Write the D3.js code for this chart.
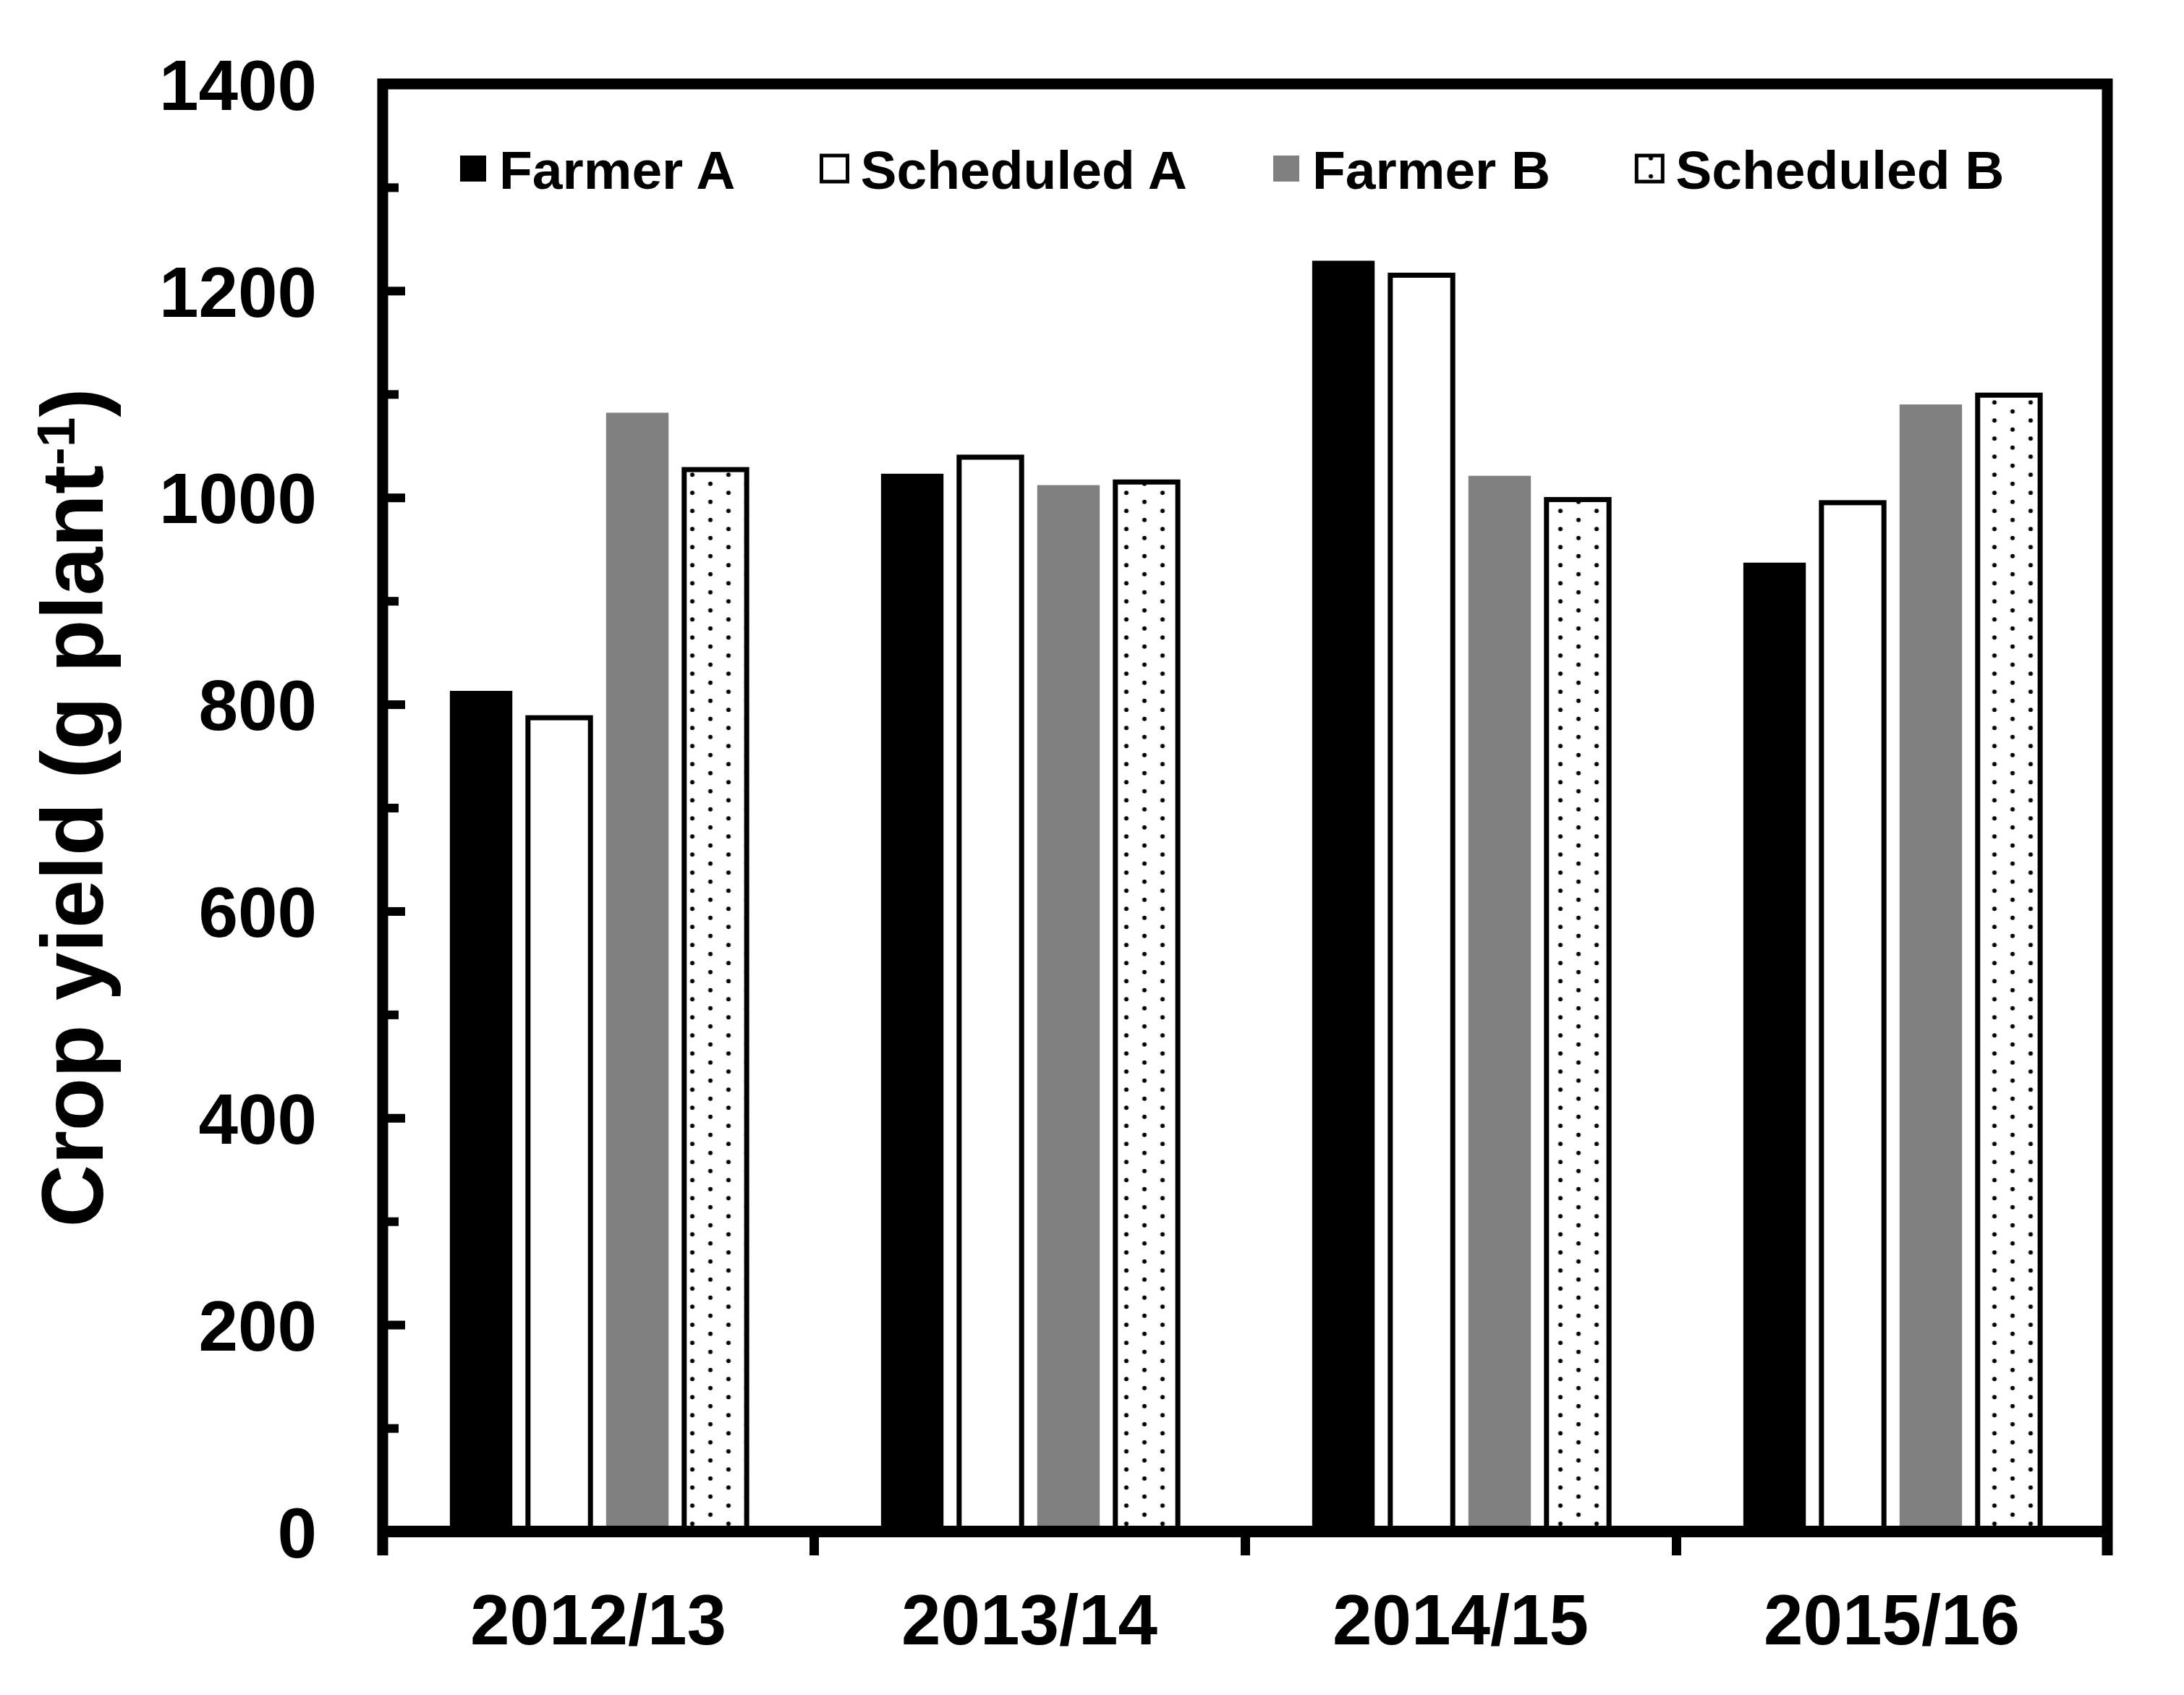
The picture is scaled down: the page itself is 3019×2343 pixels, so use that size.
<!DOCTYPE html>
<html>
  <head>
    <meta charset="UTF-8" />
    <style>
      body { margin: 0; background: #fff; }
      text { font-family: 'Liberation Sans', Arial, sans-serif; font-weight: bold; fill: #000; }
    </style>
  </head>
  <body>
    <svg></svg>

    <script src="https://d3js.org/d3.v7.min.js"></script>
    <script>
      let width = 3019,
        height = 2343

      // data
      let seasons = ['2012/13', '2013/14', '2014/15', '2015/16']
      let series = ['Farmer A', 'Scheduled A', 'Farmer B', 'Scheduled B']
      let farmerA = [813, 1023, 1229, 937]
      let scheduledA = [787, 1039, 1215, 995]
      let farmerB = [1082, 1012, 1021, 1090]
      let scheduledB = [1027, 1015, 998, 1099]
      let yTicks = [0, 200, 400, 600, 800, 1000, 1200, 1400]
      let yMinorTicks = [100, 300, 500, 700, 900, 1100, 1300]

      let values = [farmerA, scheduledA, farmerB, scheduledB]
      let rows = []
      seasons.forEach((s, i) => {
        series.forEach((k, j) => rows.push({ season: s, key: k, value: values[j][i] }))
      })

      let svg = d3.select('svg').attr('width', width).attr('height', height)
      svg.append('rect').attr('width', width).attr('height', height).attr('fill', '#fff')

      let plotLeft = 529,
        plotRight = 2913,
        plotTop = 116,
        plotBottom = 2117

      let y = d3.scaleLinear().domain([0, 1400]).range([plotBottom, plotTop])
      let x0 = d3.scaleBand().domain(seasons).range([plotLeft, plotRight])
      let x1 = d3
        .scaleBand()
        .domain(series)
        .range([0, x0.bandwidth()])
        .paddingInner(0.2)
        .paddingOuter(0.86)

      // dotted fill
      let defs = svg.append('defs')
      let pat = defs
        .append('pattern')
        .attr('id', 'dots')
        .attr('patternUnits', 'userSpaceOnUse')
        .attr('x', -5.5)
        .attr('y', 0)
        .attr('width', 50)
        .attr('height', 25)
      pat.append('rect').attr('width', 50).attr('height', 25).attr('fill', '#fff')
      pat.append('circle').attr('cx', 12.5).attr('cy', 6.25).attr('r', 3).attr('fill', '#000')
      pat.append('circle').attr('cx', 37.5).attr('cy', 18.75).attr('r', 3).attr('fill', '#000')

      let fills = d3.scaleOrdinal().domain(series).range(['#000', '#fff', '#808080', 'url(#dots)'])
      let strokes = d3.scaleOrdinal().domain(series).range(['none', '#000', 'none', '#000'])

      // bars
      svg
        .append('g')
        .attr('id', 'bars')
        .selectAll('rect')
        .data(rows)
        .enter()
        .append('rect')
        .attr('x', (d) => x0(d.season) + x1(d.key))
        .attr('y', (d) => y(d.value))
        .attr('width', x1.bandwidth())
        .attr('height', (d) => y(0) - y(d.value))
        .attr('fill', (d) => fills(d.key))
        .attr('stroke', (d) => strokes(d.key))
        .attr('stroke-width', 7)

      // y axis, major and minor ticks pointing inward
      let yAxis = svg
        .append('g')
        .attr('transform', 'translate(' + plotLeft + ',0)')
        .call(d3.axisLeft(y).tickValues(yTicks).tickFormat(d3.format('d')).tickSize(-31).tickPadding(91))
      yAxis.select('.domain').remove()
      yAxis.selectAll('line').attr('stroke', '#000').attr('stroke-width', 12)
      yAxis.selectAll('text').attr('font-size', 98).attr('dy', '0.36em')
      yAxis.attr('font-family', null).attr('font-size', null)

      let yMinor = svg
        .append('g')
        .attr('transform', 'translate(' + plotLeft + ',0)')
        .call(d3.axisLeft(y).tickValues(yMinorTicks).tickSize(-22).tickFormat(''))
      yMinor.select('.domain').remove()
      yMinor.selectAll('line').attr('stroke', '#000').attr('stroke-width', 12)

      // x axis: boundary ticks going down, labels at the centres
      let xb = d3.scaleLinear().domain([0, seasons.length]).range([plotLeft, plotRight])
      let xTickAxis = svg
        .append('g')
        .attr('transform', 'translate(0,' + plotBottom + ')')
        .call(d3.axisBottom(xb).tickValues(d3.range(seasons.length + 1)).tickSize(33).tickFormat(''))
      xTickAxis.select('.domain').remove()
      xTickAxis.selectAll('line').attr('stroke', '#000').attr('stroke-width', 13)

      let xAxis = svg
        .append('g')
        .attr('transform', 'translate(0,' + plotBottom + ')')
        .call(d3.axisBottom(x0).tickSize(0).tickPadding(86))
      xAxis.select('.domain').remove()
      xAxis.selectAll('text').attr('font-size', 98)
      xAxis.attr('font-family', null).attr('font-size', null)

      // frame
      svg
        .append('path')
        .attr('d', 'M' + plotLeft + ',' + (plotBottom + 33) + 'V' + plotTop + 'H' + plotRight + 'V' + (plotBottom + 33))
        .attr('fill', 'none')
        .attr('stroke', '#000')
        .attr('stroke-width', 15)
        .attr('stroke-linejoin', 'miter')
      svg
        .append('line')
        .attr('x1', plotLeft)
        .attr('x2', plotRight)
        .attr('y1', plotBottom)
        .attr('y2', plotBottom)
        .attr('stroke', '#000')
        .attr('stroke-width', 16)

      // y label
      let ylab = svg
        .append('text')
        .attr('transform', 'translate(142,' + (plotTop + plotBottom) / 2 + ') rotate(-90)')
        .attr('text-anchor', 'middle')
        .attr('font-size', 120)
      ylab.append('tspan').text('Crop yield (g plant')
      ylab.append('tspan').attr('font-size', 75).attr('dy', -39).text('-1')
      ylab.append('tspan').attr('dy', 39).text(')')

      // legend
      let legend = svg.append('g').attr('id', 'legend')
      let lx = 636
      series.forEach((s) => {
        legend
          .append('rect')
          .attr('x', lx)
          .attr('y', 215)
          .attr('width', 36)
          .attr('height', 36)
          .attr('fill', fills(s))
          .attr('stroke', strokes(s))
          .attr('stroke-width', 5)
        let t = legend
          .append('text')
          .attr('x', lx + 54)
          .attr('y', 261)
          .attr('font-size', 75)
          .text(s)
        lx += 54 + t.node().getComputedTextLength() + 119
      })
    </script>
  </body>
</html>
